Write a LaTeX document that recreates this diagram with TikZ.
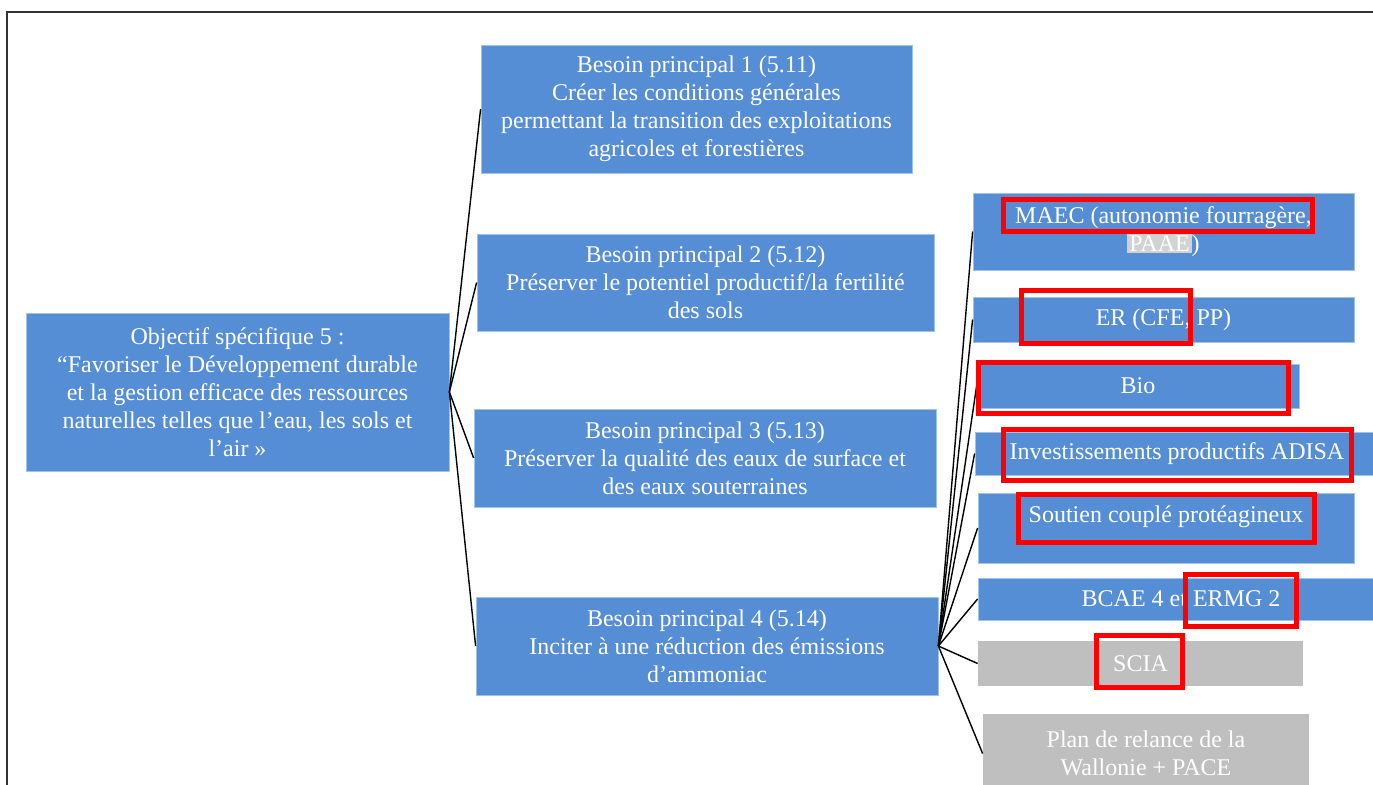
\documentclass[tikz,border=0pt]{standalone}
\usepackage{fontspec}
\setmainfont{Liberation Serif}
\usepackage{xcolor}
\usetikzlibrary{positioning, calc}

\definecolor{boxblue}{RGB}{85,142,213}
\definecolor{boxedge}{RGB}{160,196,232}
\definecolor{boxgray}{RGB}{191,191,191}
\definecolor{hlgray}{RGB}{210,210,210}

\begin{document}
\begin{tikzpicture}[x=0.5pt, y=-0.5pt,
  need/.style={fill=boxblue, draw=boxedge, line width=0.4pt, text=white, align=center, inner sep=0pt, font=\fontsize{12}{14}\selectfont},
  greybox/.style={need, fill=boxgray, draw=none},
  link/.style={black, line width=0.7pt},
  redbox/.style={draw=red, line width=2.5pt}
]
\useasboundingbox (0,0) rectangle (1373,784);
\draw[line width=1pt, black!80] (6.5,790) |- (1380,11.5);

\node[need, minimum width=211.5pt, minimum height=79pt] (obj) at (237.5,392) {Objectif spécifique 5 :\\
“Favoriser le Développement durable\\ et la gestion efficace des ressources\\ naturelles telles que l’eau, les sols et\\ l’air »};

\node[need, minimum width=215.5pt, minimum height=64pt] (B1) at (696.5,109) {Besoin principal 1 (5.11)\\
Créer les conditions générales\\ permettant la transition des exploitations\\ agricoles et forestières};
\node[need, minimum width=228.5pt, minimum height=48.5pt] (B2) at (705.5,282.5) {Besoin principal 2 (5.12)\\
Préserver le potentiel productif/la fertilité\\ des sols};
\node[need, minimum width=231pt, minimum height=49pt] (B3) at (705,458) {Besoin principal 3 (5.13)\\
Préserver la qualité des eaux de surface et\\ des eaux souterraines};
\node[need, minimum width=231pt, minimum height=49pt] (B4) at (707,646) {Besoin principal 4 (5.14)\\
Inciter à une réduction des émissions\\ d’ammoniac};

\node[need, minimum width=190.5pt, minimum height=38.5pt] (maec) at (1163.5,231.5) {MAEC (autonomie fourragère,\\ {\setlength{\fboxsep}{1pt}\colorbox{hlgray}{PAAE}})};
\node[need, minimum width=190.5pt, minimum height=22.5pt] (er) at (1163.5,319.5) {ER (CFE, PP)};
\node[need, minimum width=161pt, minimum height=22pt] (bio) at (1138,386) {Bio};
\node[need, minimum width=202pt, minimum height=21.5pt] (inv) at (1177,453.5) {Investissements productifs ADISA};
\node[need, minimum width=188pt, minimum height=35pt] (sout) at (1166,528) {Soutien couplé protéagineux\\ \mbox{}};
\node[need, minimum width=203pt, minimum height=21pt] (bcae) at (1181,599) {BCAE 4 et ERMG 2};
\node[greybox, minimum width=162.5pt, minimum height=22.5pt] (scia) at (1140.5,663.5) {SCIA};
\node[greybox, minimum width=163pt, minimum height=39.5pt] (plan) at (1146,753.5) {Plan de relance de la\\ Wallonie + PACE};

\foreach \b in {B1,B2,B3,B4}
  \draw[link] (obj.east) -- (\b.west);
\foreach \m in {maec,er,bio,inv,sout,bcae,scia,plan}
  \draw[link] (B4.east) -- (\m.west);

\draw[redbox] (1003.5,199.5) rectangle (1312.5,231.5);
\draw[redbox] (1021.5,290.5) rectangle (1190.5,343.5);
\draw[redbox] (978.5,362.5) rectangle (1288.5,413.5);
\draw[redbox] (1003.5,429.5) rectangle (1351.5,480.5);
\draw[redbox] (1018.5,494.5) rectangle (1314.5,542.5);
\draw[redbox] (1185.5,574.5) rectangle (1296.5,626.5);
\draw[redbox] (1096.5,635.5) rectangle (1182.5,687.5);
\end{tikzpicture}
\end{document}
